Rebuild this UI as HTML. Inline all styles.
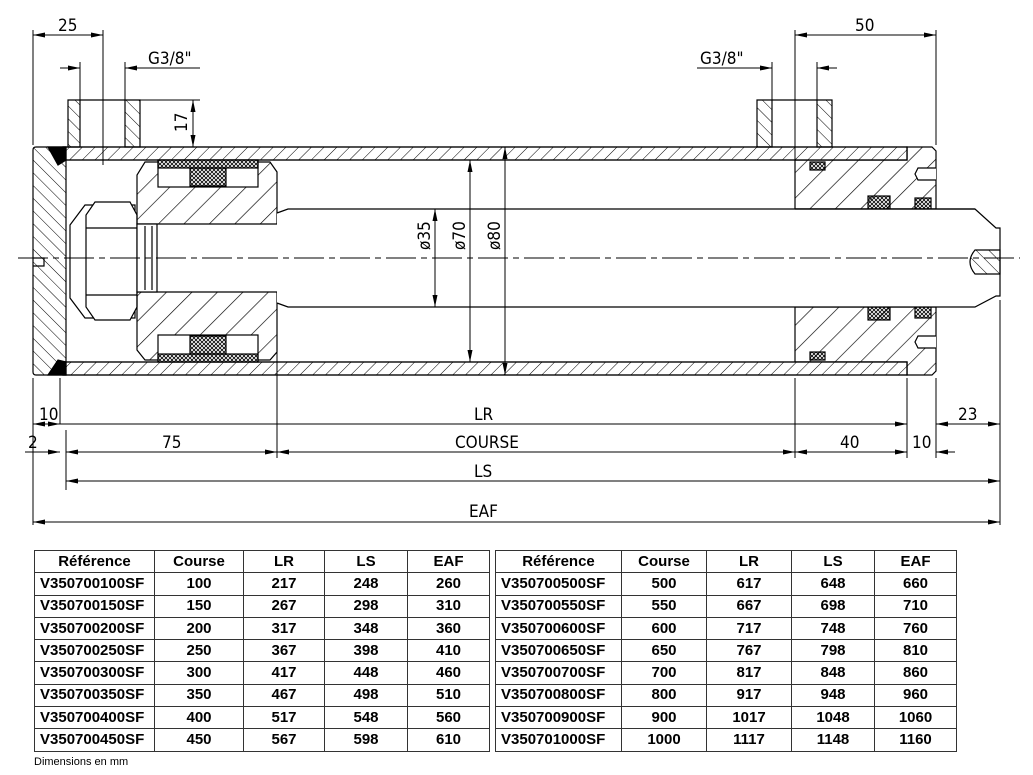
<!DOCTYPE html>
<html><head><meta charset="utf-8"><style>
html,body{margin:0;padding:0;background:#fff;width:1033px;height:775px;overflow:hidden;position:relative}
svg{position:absolute;left:0;top:0}
table{position:absolute;border-collapse:collapse;font-family:"Liberation Sans",sans-serif;font-weight:bold;font-size:15px;top:550px}
td{border:1.5px solid #333;text-align:center;height:21.3px;padding:0;line-height:20px}
td.r{text-align:left;padding-left:5px}
.note{position:absolute;left:34px;top:756px;font-family:"Liberation Sans",sans-serif;font-size:11px}
</style></head><body>
<svg width="1033" height="775" viewBox="0 0 1033 775" font-family="Liberation Sans, sans-serif">
<defs>
<pattern id="h1" width="9" height="9" patternUnits="userSpaceOnUse" patternTransform="rotate(-45)"><line x1="0" y1="0" x2="0" y2="9" stroke="#000" stroke-width="1"/></pattern>
<pattern id="h2" width="9" height="9" patternUnits="userSpaceOnUse" patternTransform="rotate(45)"><line x1="0" y1="0" x2="0" y2="9" stroke="#000" stroke-width="1"/></pattern>
<pattern id="h3" width="18" height="18" patternUnits="userSpaceOnUse" patternTransform="rotate(45)"><line x1="0" y1="0" x2="0" y2="18" stroke="#000" stroke-width="1.3"/></pattern>
<pattern id="x" width="4" height="4" patternUnits="userSpaceOnUse"><path d="M0 0L4 4M4 0L0 4" stroke="#000" stroke-width="0.8"/></pattern>
<marker id="a" markerWidth="12" markerHeight="6" refX="12" refY="3" orient="auto-start-reverse" markerUnits="userSpaceOnUse"><path d="M0 0.5L12 3L0 5.5Z" fill="#000"/></marker>
</defs>
<g stroke="#000" stroke-width="1.2" fill="none">
<!-- right head -->
<path d="M795 160H907V147H932L936 151V209H795Z" fill="url(#h3)"/>
<path d="M795 362H907V375H932L936 371V307H795Z" fill="url(#h3)"/>
<!-- tube walls -->
<rect x="63" y="147" width="844" height="13" fill="#fff"/>
<rect x="63" y="147" width="844" height="13" fill="url(#h2)"/>
<rect x="63" y="362" width="844" height="13" fill="#fff"/>
<rect x="63" y="362" width="844" height="13" fill="url(#h2)"/>
<rect x="810" y="162" width="15" height="8" fill="url(#x)"/>
<rect x="810" y="352" width="15" height="8" fill="url(#x)"/>
<rect x="868" y="196" width="22" height="13" fill="url(#x)"/>
<rect x="868" y="307" width="22" height="13" fill="url(#x)"/>
<rect x="915" y="198" width="16" height="11" fill="url(#x)"/>
<rect x="915" y="307" width="16" height="11" fill="url(#x)"/>
<path d="M936 168H918L915 174L918 180H936" fill="#fff"/>
<path d="M936 336H918L915 342L918 348H936" fill="#fff"/>
<!-- left cap -->
<path d="M36 147H66V375H36Q33 375 33 372V150Q33 147 36 147Z" fill="url(#h1)"/>
<path d="M48 147L58 165L66 160L66 147Z" fill="#000"/>
<path d="M48 375L58 360L66 362L66 375Z" fill="#000"/>
<path d="M33 258H44V266H33" />
<!-- left port -->
<path d="M68 100H80V147H68Z" fill="url(#h1)"/>
<path d="M125 100H140V147H125Z" fill="url(#h1)"/>
<line x1="80" y1="100" x2="125" y2="100"/>
<!-- right port -->
<path d="M757 100H772V147H757Z" fill="url(#h1)"/>
<path d="M817 100H832V147H817Z" fill="url(#h1)"/>
<line x1="772" y1="100" x2="817" y2="100"/>
<!-- nut -->
<path d="M70 225L85 205H135V318H85L70 298Z"/>
<path d="M95 202H130L137 215V307L130 320H95L86 307V215Z" fill="#fff"/>
<line x1="86" y1="228" x2="137" y2="228"/><line x1="86" y1="295" x2="137" y2="295"/>
<!-- piston -->
<path d="M145 162H270L277 172V224H137V175Z" fill="url(#h3)"/>
<path d="M137 292H277V352L270 360H145L137 350Z" fill="url(#h3)"/>
<rect x="158" y="160" width="100" height="27" fill="#fff"/>
<rect x="158" y="160" width="100" height="8" fill="url(#x)"/>
<rect x="190" y="168" width="36" height="18" fill="url(#x)"/>
<rect x="158" y="335" width="100" height="27" fill="#fff"/>
<rect x="158" y="354" width="100" height="8" fill="url(#x)"/>
<rect x="190" y="336" width="36" height="18" fill="url(#x)"/>
<rect x="137" y="224" width="20" height="68" fill="#fff"/>
<line x1="145" y1="226" x2="145" y2="290"/><line x1="152" y1="226" x2="152" y2="290"/>
<!-- rod -->
<path d="M277 213L288 209H975L996 228H1000V296H996L975 307H288L277 303" fill="#fff"/>
<line x1="795" y1="209" x2="975" y2="209"/>
<path d="M975 250Q965 262 975 274L1000 274V250Z" fill="url(#h1)"/>
</g>
<!-- centerline -->
<line x1="18" y1="258" x2="1020" y2="258" stroke="#000" stroke-width="1" stroke-dasharray="30,5,6,5"/>
<g stroke="#000" stroke-width="1" fill="none">
<line x1="33" y1="30" x2="33" y2="145"/><line x1="103" y1="30" x2="103" y2="165"/>
<line x1="795" y1="30" x2="795" y2="160"/><line x1="936" y1="30" x2="936" y2="145"/>
<line x1="80" y1="62" x2="80" y2="100"/><line x1="125" y1="62" x2="125" y2="100"/>
<line x1="772" y1="62" x2="772" y2="100"/><line x1="817" y1="62" x2="817" y2="100"/>
<line x1="140" y1="100" x2="200" y2="100"/>
<line x1="33" y1="378" x2="33" y2="525"/><line x1="60" y1="378" x2="60" y2="424"/>
<line x1="66" y1="430" x2="66" y2="490"/>
<line x1="277" y1="320" x2="277" y2="458"/><line x1="795" y1="378" x2="795" y2="458"/>
<line x1="907" y1="378" x2="907" y2="458"/><line x1="936" y1="378" x2="936" y2="458"/>
<line x1="1000" y1="300" x2="1000" y2="525"/>
<line x1="33" y1="35" x2="103" y2="35" marker-start="url(#a)" marker-end="url(#a)"/>
<line x1="795" y1="35" x2="936" y2="35" marker-start="url(#a)" marker-end="url(#a)"/>
<line x1="60" y1="68" x2="80" y2="68" marker-end="url(#a)"/><line x1="200" y1="68" x2="125" y2="68" marker-end="url(#a)"/>
<line x1="697" y1="68" x2="772" y2="68" marker-end="url(#a)"/><line x1="837" y1="68" x2="817" y2="68" marker-end="url(#a)"/>
<line x1="193" y1="100" x2="193" y2="147" marker-start="url(#a)" marker-end="url(#a)"/>
<line x1="435" y1="209" x2="435" y2="307" marker-start="url(#a)" marker-end="url(#a)"/>
<line x1="470" y1="160" x2="470" y2="362" marker-start="url(#a)" marker-end="url(#a)"/>
<line x1="505" y1="147" x2="505" y2="375" marker-start="url(#a)" marker-end="url(#a)"/>
<line x1="33" y1="424" x2="60" y2="424" marker-start="url(#a)" marker-end="url(#a)"/>
<line x1="60" y1="424" x2="907" y2="424" marker-end="url(#a)"/>
<line x1="936" y1="424" x2="1000" y2="424" marker-start="url(#a)" marker-end="url(#a)"/>
<line x1="25" y1="452" x2="60" y2="452" marker-end="url(#a)"/>
<line x1="66" y1="452" x2="277" y2="452" marker-start="url(#a)" marker-end="url(#a)"/>
<line x1="277" y1="452" x2="795" y2="452" marker-start="url(#a)" marker-end="url(#a)"/>
<line x1="795" y1="452" x2="907" y2="452" marker-start="url(#a)" marker-end="url(#a)"/>
<line x1="955" y1="452" x2="936" y2="452" marker-end="url(#a)"/>
<line x1="66" y1="481" x2="1000" y2="481" marker-start="url(#a)" marker-end="url(#a)"/>
<line x1="33" y1="522" x2="1000" y2="522" marker-start="url(#a)" marker-end="url(#a)"/>
</g>
<g font-size="17" fill="#000" font-family="DejaVu Sans Condensed, Liberation Sans Narrow, sans-serif" font-weight="200">
<text x="58" y="31">25</text><text x="855" y="31">50</text>
<text x="148" y="64">G3/8"</text><text x="700" y="64">G3/8"</text>
<text transform="translate(187,132) rotate(-90)">17</text>
<text transform="translate(430,250) rotate(-90)">ø35</text>
<text transform="translate(465,250) rotate(-90)">ø70</text>
<text transform="translate(500,250) rotate(-90)">ø80</text>
<text x="39" y="420">10</text><text x="474" y="420">LR</text><text x="958" y="420">23</text>
<text x="28" y="448">2</text><text x="162" y="448">75</text><text x="455" y="448">COURSE</text><text x="840" y="448">40</text><text x="912" y="448">10</text>
<text x="474" y="477">LS</text><text x="469" y="517">EAF</text>
</g>
</svg>
<table style="left:34px;width:456px">
<tr><td style="width:119px">Référence</td><td style="width:88px">Course</td><td style="width:80px">LR</td><td style="width:82px">LS</td><td>EAF</td></tr>
<tr><td class="r">V350700100SF</td><td>100</td><td>217</td><td>248</td><td>260</td></tr>
<tr><td class="r">V350700150SF</td><td>150</td><td>267</td><td>298</td><td>310</td></tr>
<tr><td class="r">V350700200SF</td><td>200</td><td>317</td><td>348</td><td>360</td></tr>
<tr><td class="r">V350700250SF</td><td>250</td><td>367</td><td>398</td><td>410</td></tr>
<tr><td class="r">V350700300SF</td><td>300</td><td>417</td><td>448</td><td>460</td></tr>
<tr><td class="r">V350700350SF</td><td>350</td><td>467</td><td>498</td><td>510</td></tr>
<tr><td class="r">V350700400SF</td><td>400</td><td>517</td><td>548</td><td>560</td></tr>
<tr><td class="r">V350700450SF</td><td>450</td><td>567</td><td>598</td><td>610</td></tr>
</table>
<table style="left:495px;width:462px">
<tr><td style="width:125px">Référence</td><td style="width:84px">Course</td><td style="width:84px">LR</td><td style="width:82px">LS</td><td>EAF</td></tr>
<tr><td class="r">V350700500SF</td><td>500</td><td>617</td><td>648</td><td>660</td></tr>
<tr><td class="r">V350700550SF</td><td>550</td><td>667</td><td>698</td><td>710</td></tr>
<tr><td class="r">V350700600SF</td><td>600</td><td>717</td><td>748</td><td>760</td></tr>
<tr><td class="r">V350700650SF</td><td>650</td><td>767</td><td>798</td><td>810</td></tr>
<tr><td class="r">V350700700SF</td><td>700</td><td>817</td><td>848</td><td>860</td></tr>
<tr><td class="r">V350700800SF</td><td>800</td><td>917</td><td>948</td><td>960</td></tr>
<tr><td class="r">V350700900SF</td><td>900</td><td>1017</td><td>1048</td><td>1060</td></tr>
<tr><td class="r">V350701000SF</td><td>1000</td><td>1117</td><td>1148</td><td>1160</td></tr>
</table>
<div class="note">Dimensions en mm</div>
</body></html>
